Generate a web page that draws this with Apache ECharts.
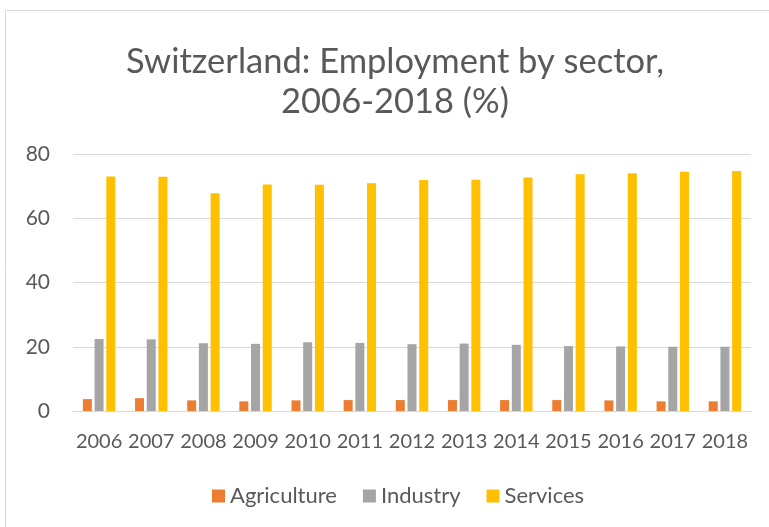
<!DOCTYPE html>
<html><head><meta charset="utf-8">
<script src="https://cdn.jsdelivr.net/npm/echarts@6/dist/echarts.min.js"></script>
<style>html,body{margin:0;padding:0;background:#fff}#c{width:769px;height:527px}</style>
</head><body><div id="c"></div>
<script>
const years = ['2006','2007','2008','2009','2010','2011','2012','2013','2014','2015','2016','2017','2018'];
const agriculture = [3.7,4.0,3.3,3.0,3.3,3.4,3.4,3.4,3.4,3.4,3.3,3.0,3.0];
const industry = [22.4,22.3,21.1,20.9,21.4,21.2,20.8,21.0,20.6,20.2,20.1,20.0,20.0];
const services = [73.0,72.9,67.8,70.5,70.4,70.9,71.9,72.0,72.7,73.7,74.0,74.5,74.7];
const titleText = 'Switzerland: Employment by sector,\n2006-2018 (%)';

const chart = echarts.init(document.getElementById('c'));
const font = 'Lato';
const txt = '#595959';
function s(name, data, color){
  return {name, type:'bar', data, barWidth:9, barGap:'30%', itemStyle:{color}};
}
chart.setOption({
  animation:false,
  graphic:[
    {type:'rect', shape:{x:5.5,y:10.5,width:770,height:530}, style:{fill:'none',stroke:'#d9d9d9',lineWidth:1}},
    {type:'text', x:395, y:42, style:{text:titleText, fill:txt, font:'normal 34.5px Lato', textAlign:'center', lineHeight:40}}
  ],
  legend:{bottom:15, left:207, itemWidth:13, itemHeight:13, itemGap:26, icon:'rect',
    textStyle:{fontFamily:font, fontSize:22, color:txt}},
  grid:{left:73, right:18, top:154, bottom:116},
  xAxis:{type:'category', data:years, axisTick:{show:false}, axisLine:{lineStyle:{color:'#d9d9d9'}},
    axisLabel:{fontFamily:font, fontSize:20, color:txt, margin:21, interval:0}},
  yAxis:{type:'value', min:0, max:80, interval:20, axisLine:{show:false}, axisTick:{show:false},
    splitLine:{lineStyle:{color:'#d9d9d9', width:1}},
    axisLabel:{fontFamily:font, fontSize:21, color:txt, margin:23}},
  series:[s('Agriculture',agriculture,'#ed7d31'), s('Industry',industry,'#a5a5a5'), s('Services',services,'#ffc000')]
});
</script></body></html>
